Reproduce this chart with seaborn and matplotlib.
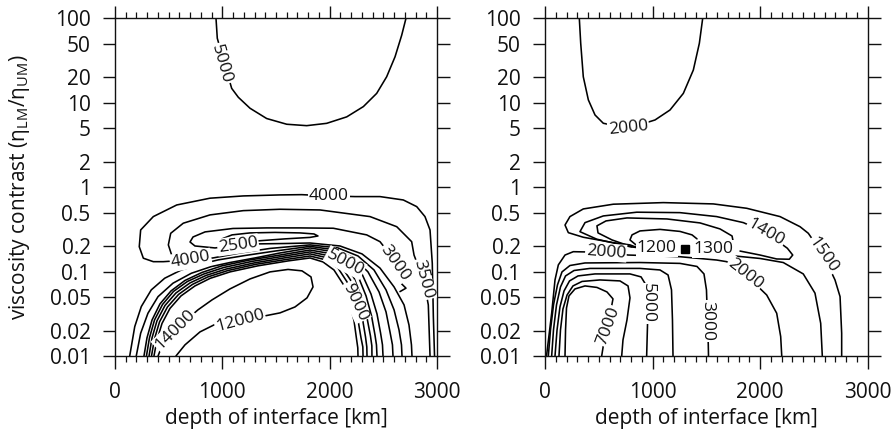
import numpy as np
import pandas as pd
import matplotlib
matplotlib.use("Agg")
import matplotlib.pyplot as plt
import seaborn as sns
from matplotlib.ticker import FixedLocator, MultipleLocator, NullLocator

sns.set_style("ticks")
plt.rcParams["font.family"] = ["Open Sans", "DejaVu Sans"]
plt.rcParams["mathtext.fontset"] = "custom"
plt.rcParams["mathtext.rm"] = "Open Sans"

# ---------------- axes values ----------------
depth_ticks = [0, 1000, 2000, 3000]
contrast_ticks = [0.01, 0.02, 0.05, 0.1, 0.2, 0.5, 1, 2, 5, 10, 20, 50, 100]
contrast_labels = ["0.01", "0.02", "0.05", "0.1", "0.2", "0.5", "1", "2", "5",
                   "10", "20", "50", "100"]

# ---------------- left panel: contour lines (depth km, contrast) ----------------
L_top5000 = [(941, 100), (953, 58), (1087, 14.8), (1149, 11.6), (1258, 8.6), (1413, 6.5),
             (1600, 5.56), (1786, 5.35), (1972, 5.7), (2159, 6.8), (2314, 9.0), (2438, 12.9),
             (2531, 20.3), (2609, 35), (2671, 63), (2711, 100)]

# right-hand fan of the dense arch (outer -> inner)
fan9 = [(1817, 0.218), (2096, 0.201), (2301, 0.162), (2469, 0.110), (2600, 0.0658),
        (2693, 0.0403), (2739, 0.0233), (2762, 0.01355), (2767, 0.01)]
fan8 = [(1817, 0.207), (2078, 0.1905), (2264, 0.153), (2413, 0.1045), (2525, 0.0607),
        (2600, 0.0352), (2646, 0.0204), (2669, 0.01355), (2674, 0.01)]
fan7 = [(1817, 0.199), (2059, 0.180), (2227, 0.145), (2357, 0.0991), (2460, 0.0574),
        (2525, 0.0333), (2562, 0.0193), (2585, 0.01355), (2590, 0.01)]
fan6 = [(1817, 0.1905), (2040, 0.171), (2189, 0.1374), (2301, 0.0938), (2385, 0.0543),
        (2441, 0.0315), (2474, 0.0188), (2492, 0.01355), (2497, 0.01)]
fan5 = [(1817, 0.180), (2022, 0.162), (2162, 0.130), (2264, 0.0888), (2339, 0.0515),
        (2390, 0.0299), (2422, 0.0178), (2436, 0.01355), (2441, 0.01)]
fan4 = [(1817, 0.171), (2003, 0.153), (2134, 0.123), (2227, 0.0841), (2297, 0.0488),
        (2348, 0.0283), (2380, 0.0173), (2393, 0.0132), (2394, 0.01)]
fan3 = [(1817, 0.162), (1985, 0.145), (2106, 0.117), (2194, 0.0796), (2259, 0.0462),
        (2306, 0.0275), (2334, 0.0168), (2346, 0.0128), (2348, 0.01)]
fan2 = [(1817, 0.153), (1966, 0.1374), (2078, 0.110), (2162, 0.0754), (2222, 0.0437),
        (2264, 0.0267), (2292, 0.0164), (2309, 0.0128), (2311, 0.01)]
fan1 = [(1817, 0.145), (1938, 0.130), (2040, 0.1045), (2124, 0.0714), (2185, 0.0426),
        (2227, 0.0261), (2250, 0.0160), (2262, 0.0125), (2264, 0.01)]

# left-hand legs of the dense arch
legA1 = [(137, 0.01), (184, 0.0223), (245, 0.0385), (338, 0.0607), (463, 0.0834), (618, 0.1045),
         (804, 0.123), (960, 0.1374), (1211, 0.155), (1491, 0.175), (1817, 0.199)]
legA2 = [(198, 0.01), (239, 0.0186), (307, 0.0321), (401, 0.0505), (540, 0.0728), (711, 0.0955),
         (897, 0.1146), (1071, 0.128), (1304, 0.145), (1537, 0.166), (1817, 0.1905)]
legD1 = [(270, 0.01), (298, 0.0164), (345, 0.0267), (419, 0.0414), (522, 0.0590), (652, 0.0785),
         (811, 0.0977), (997, 0.117), (1258, 0.1374), (1537, 0.157), (1817, 0.180)]
legD2 = [(293, 0.01), (321, 0.0164), (368, 0.0267), (443, 0.0408), (545, 0.0582), (675, 0.0764),
         (829, 0.0938), (1016, 0.112), (1276, 0.132), (1556, 0.151), (1817, 0.171)]
legD3 = [(317, 0.01), (345, 0.0164), (391, 0.0261), (466, 0.0397), (568, 0.0558), (699, 0.0734),
         (848, 0.0900), (1034, 0.107), (1295, 0.1265), (1575, 0.145), (1817, 0.162)]
legD4 = [(340, 0.01), (368, 0.0160), (415, 0.0254), (489, 0.0381), (592, 0.0536), (722, 0.0705),
         (866, 0.0865), (1053, 0.103), (1314, 0.122), (1593, 0.139), (1817, 0.153)]
legD5 = [(363, 0.01), (391, 0.0155), (438, 0.0243), (512, 0.0366), (615, 0.0515), (745, 0.0676),
         (885, 0.0830), (1071, 0.0991), (1332, 0.117), (1612, 0.1337), (1817, 0.145)]

L_4000 = [(2977, 0.01), (2966, 0.0293), (2956, 0.1256), (2935, 0.311), (2888, 0.448), (2811, 0.588),
          (2686, 0.705), (2469, 0.773), (2236, 0.773), (1994, 0.787), (1739, 0.815), (1537, 0.809),
          (1195, 0.787), (885, 0.740), (575, 0.615), (357, 0.448), (239, 0.311), (226, 0.197),
          (264, 0.144), (357, 0.131), (450, 0.131), (705, 0.1374), (913, 0.145), (1165, 0.166),
          (1444, 0.188), (1817, 0.207)]
L_3500 = [(528, 0.157), (497, 0.207), (519, 0.284), (636, 0.374), (885, 0.469), (1195, 0.527),
          (1537, 0.547), (1910, 0.537), (2376, 0.448), (2625, 0.340), (2764, 0.226), (2786, 0.157),
          (2832, 0.110), (2879, 0.0695), (2907, 0.0488), (2919, 0.0403), (2935, 0.01)]
L_3000 = [(2655, 0.0579), (2711, 0.0636), (2671, 0.0714), (2609, 0.120), (2544, 0.171),
          (2469, 0.226), (2345, 0.272), (2034, 0.326), (1724, 0.329), (1416, 0.329), (1099, 0.324),
          (839, 0.295), (727, 0.257), (699, 0.224), (745, 0.201), (932, 0.1905), (1146, 0.207),
          (1351, 0.213), (1584, 0.215), (1817, 0.218)]
L_2500 = [(1332, 0.231), (1584, 0.244), (1817, 0.254), (1891, 0.264), (1854, 0.279), (1724, 0.287),
          (1491, 0.291), (1258, 0.287), (1090, 0.272), (997, 0.244)]
L_tongue = [(568, 0.01), (652, 0.01355), (792, 0.0193), (941, 0.0240), (1165, 0.0261),
            (1398, 0.0299), (1537, 0.0324), (1677, 0.0381), (1789, 0.0488), (1845, 0.0658),
            (1826, 0.0865), (1742, 0.102), (1612, 0.106), (1444, 0.0991), (1258, 0.0818),
            (1071, 0.0623), (904, 0.0462), (773, 0.0352), (559, 0.0204), (438, 0.0132), (401, 0.01)]

left_lines = {
    "top5000": L_top5000,
    "c4000": L_4000 + fan8,
    "c3500": L_3500,
    "c3000": L_3000 + fan9,
    "c2500": L_2500,
    "a1": legA1 + fan7,
    "a2": legA2 + fan6,
    "d1": legD1 + fan5,
    "d2": legD2 + fan4,
    "d3": legD3 + fan3,
    "d4": legD4 + fan2,
    "d5": legD5 + fan1,
    "tongue": L_tongue,
}

# contour labels: text, depth, contrast, rotation
left_labels = [("5000", 994, 29, -74), ("4000", 1994, 0.787, 0), ("4000", 705, 0.1374, 10),
               ("2500", 1146, 0.207, 8), ("3000", 2609, 0.1265, -55), ("3500", 2872, 0.081, -75),
               ("5000", 2143, 0.1276, -28), ("9000", 2236, 0.0437, -65),
               ("12000", 1165, 0.0261, 15), ("14000", 559, 0.0204, 45)]

# ---------------- right panel ----------------
R_top2000 = [(319, 100), (332, 50.6), (356, 20.3), (403, 10.8), (465, 7.16), (542, 5.71),
             (775, 4.98), (1023, 6.25), (1162, 8.2), (1286, 12.9), (1379, 24.4), (1435, 50.6),
             (1466, 100)]
R_1500 = [(855, 0.193), (790, 0.207), (635, 0.220), (356, 0.255), (217, 0.289), (186, 0.356),
          (232, 0.448), (356, 0.552), (635, 0.628), (1100, 0.656), (1565, 0.633), (1875, 0.562),
          (2185, 0.448), (2371, 0.340), (2448, 0.284), (2587, 0.157), (2696, 0.0796),
          (2743, 0.0505), (2758, 0.0186), (2758, 0.01)]
R_1400 = [(883, 0.1905), (790, 0.197), (481, 0.242), (325, 0.297), (372, 0.380), (542, 0.456),
          (853, 0.505), (1255, 0.499), (1596, 0.448), (1844, 0.380), (2055, 0.289), (2253, 0.189),
          (2303, 0.157), (2271, 0.140), (2154, 0.141), (1999, 0.157), (1813, 0.175)]
R_tongue3 = [(809, 0.196), (623, 0.237), (493, 0.287), (483, 0.348), (567, 0.398), (762, 0.432),
             (1134, 0.420), (1441, 0.377), (1627, 0.320), (1739, 0.264), (1748, 0.231),
             (1646, 0.215), (1488, 0.210)]
R_tongue4 = [(846, 0.207), (790, 0.237), (809, 0.272), (883, 0.303), (1069, 0.316), (1255, 0.299),
             (1367, 0.272), (1413, 0.244)]
R_1300 = [(1766, 0.153), (1999, 0.143), (2215, 0.128), (2401, 0.0938), (2510, 0.0555),
          (2563, 0.0244), (2578, 0.01)]
R_2000 = [(14, 0.01), (62, 0.0321), (93, 0.0796), (124, 0.120), (186, 0.157), (263, 0.172),
          (567, 0.169), (774, 0.157), (1255, 0.150), (1596, 0.137), (1689, 0.131), (1859, 0.0937),
          (2061, 0.0528), (2154, 0.0321), (2191, 0.0170), (2201, 0.01)]
R_3000 = [(31, 0.01), (51, 0.0204), (79, 0.0403), (116, 0.0695), (158, 0.0991), (232, 0.118),
          (372, 0.1265), (883, 0.128), (1255, 0.125), (1413, 0.115), (1478, 0.0938),
          (1501, 0.0607), (1511, 0.0261), (1518, 0.01355), (1520, 0.01)]
R_4000 = [(62, 0.01), (79, 0.0204), (107, 0.0403), (144, 0.0658), (191, 0.0888), (270, 0.103),
          (418, 0.109), (883, 0.109), (1069, 0.1045), (1144, 0.0912), (1176, 0.0607),
          (1185, 0.0267), (1190, 0.01)]
R_5000 = [(93, 0.01), (112, 0.0204), (139, 0.0381), (177, 0.0590), (228, 0.0775), (307, 0.0888),
          (465, 0.0938), (790, 0.0938), (893, 0.0865), (944, 0.0676), (958, 0.0462),
          (953, 0.0233), (945, 0.01)]
R_6000 = [(130, 0.01), (144, 0.0204), (167, 0.0361), (205, 0.0528), (260, 0.0676), (344, 0.0764),
          (511, 0.0796), (697, 0.0775), (772, 0.0676), (790, 0.0488), (762, 0.0267),
          (725, 0.0155), (713, 0.01)]
R_7000 = [(186, 0.01), (191, 0.0204), (200, 0.0371), (223, 0.0515), (279, 0.0623), (372, 0.0676),
          (483, 0.0649), (576, 0.0574), (632, 0.0475), (604, 0.0307), (558, 0.0178), (527, 0.01)]

right_lines = {
    "top2000": R_top2000, "c1500": R_1500, "c1400": R_1400, "t3": R_tongue3, "t4": R_tongue4,
    "c1300": R_1300, "c2000": R_2000, "c3000": R_3000, "c4000": R_4000, "c5000": R_5000,
    "c6000": R_6000, "c7000": R_7000,
}
right_labels = [("2000", 775, 4.98, 6), ("1500", 2587, 0.157, -55), ("1400", 2055, 0.289, -30),
                ("1200", 1038, 0.189, 0), ("1300", 1562, 0.185, 0), ("2000", 567, 0.169, -4),
                ("2000", 1859, 0.0937, -38), ("3000", 1510, 0.0261, -90),
                ("5000", 955, 0.042, -90), ("7000", 586, 0.0227, 70)]
right_minimum = (1302, 0.184)


def to_frame(lines):
    rows = []
    for name, pts in lines.items():
        for i, (x, y) in enumerate(pts):
            rows.append((name, i, x, y))
    return pd.DataFrame(rows, columns=["line", "order", "depth", "contrast"])


INK = "#111111"
fig = plt.figure(figsize=(8.93, 4.40), dpi=100)
ax_l = fig.add_axes([115 / 893, 1 - 356 / 440, 322 / 893, 337.7 / 440])
ax_r = fig.add_axes([545 / 893, 1 - 356 / 440, 322.7 / 893, 337.7 / 440])

for ax, lines, labels in ((ax_l, left_lines, left_labels), (ax_r, right_lines, right_labels)):
    df = to_frame(lines)
    sns.lineplot(data=df, x="depth", y="contrast", units="line", estimator=None, sort=False,
                 color="black", linewidth=1.15, ax=ax, legend=False)
    ax.set_yscale("log")
    ax.set_xlim(0, 3000)
    ax.set_ylim(0.01, 100)
    for text, x, y, rot in labels:
        ax.text(x, y, text, rotation=rot, rotation_mode="anchor", ha="center", va="center",
                fontsize=12.5, color=INK, zorder=6,
                bbox=dict(boxstyle="square,pad=0.05", fc="white", ec="none"))
    ax.xaxis.set_major_locator(FixedLocator(depth_ticks))
    ax.xaxis.set_minor_locator(MultipleLocator(100))
    ax.yaxis.set_major_locator(FixedLocator(contrast_ticks))
    ax.yaxis.set_minor_locator(NullLocator())
    ax.set_yticklabels(contrast_labels)
    ax.set_xticklabels([str(t) for t in depth_ticks])
    ax.tick_params(axis="both", which="major", direction="out", length=9, width=1.0,
                   labelsize=15, top=True, right=True, colors=INK)
    ax.tick_params(axis="y", which="major", pad=8.5)
    ax.tick_params(axis="x", which="major", pad=9.5)
    ax.tick_params(axis="x", which="minor", direction="out", length=4.5, width=0.9,
                   top=True, bottom=True, colors=INK)
    for s in ax.spines.values():
        s.set_linewidth(1.0)
        s.set_color(INK)
    ax.set_xlabel("depth of interface [km]", fontsize=15, labelpad=3.5, color=INK)
    ax.set_ylabel("")

ax_r.plot([right_minimum[0]], [right_minimum[1]], marker="s", markersize=6, color="black",
          zorder=7, linestyle="none")
ax_l.set_ylabel("viscosity contrast (η$_{\\mathregular{LM}}$/η$_{\\mathregular{UM}}$)",
                fontsize=15, color=INK)
ax_l.yaxis.set_label_coords(-0.258, 0.5)

fig.savefig("out.png", dpi=100)
